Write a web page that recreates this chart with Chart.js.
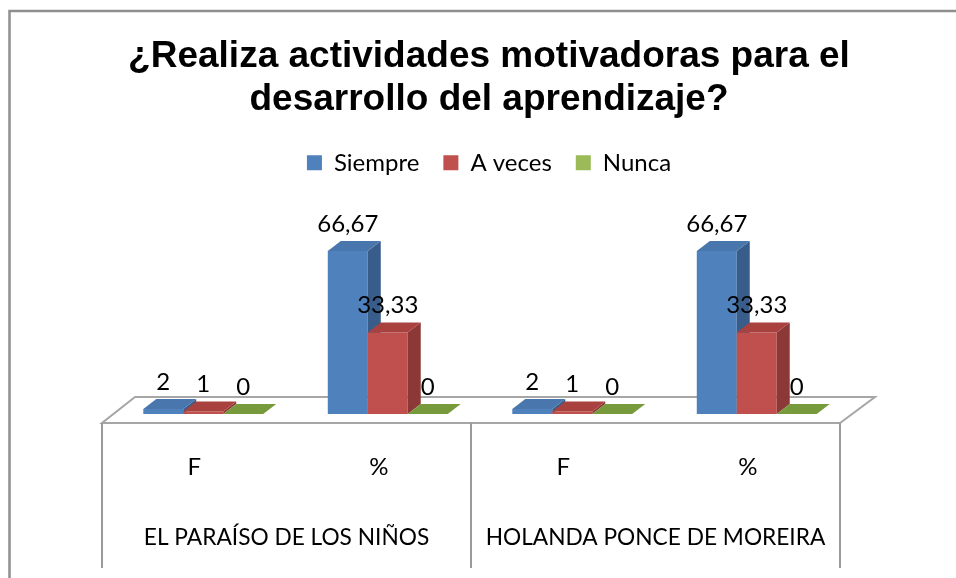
<!DOCTYPE html>
<html><head><meta charset="utf-8">
<script src="https://cdn.jsdelivr.net/npm/chart.js@4/dist/chart.umd.min.js"></script>
<style>html,body{margin:0;padding:0;background:#fff;}canvas{display:block;}</style>
</head><body>
<canvas id="c" width="956" height="578"></canvas>
<script>
const titleLines = ['¿Realiza actividades motivadoras para el', 'desarrollo del aprendizaje?'];
const categories = ['F', '%', 'F', '%'];
const groups = ['EL PARAÍSO DE LOS NIÑOS', 'HOLANDA PONCE DE MOREIRA'];
const seriesNames = ['Siempre', 'A veces', 'Nunca'];
const siempre = [2, 66.67, 2, 66.67];
const aVeces = [1, 33.33, 1, 33.33];
const nunca = [0, 0, 0, 0];

const frontColors = ['#4F81BD', '#C0504D', '#9BBB59'];
const sideColors = ['#385D8A', '#8C3836', '#71893F'];
const topColors = ['#4A76AE', '#A9423F', '#779A3C'];

const DX = 13, DY = 10;
const FONT = 'Lato';

function poly(ctx, pts, color) {
  ctx.fillStyle = color;
  ctx.beginPath();
  ctx.moveTo(pts[0][0], pts[0][1]);
  for (let i = 1; i < pts.length; i++) ctx.lineTo(pts[i][0], pts[i][1]);
  ctx.closePath();
  ctx.fill();
}

const threeD = {
  id: 'threeD',
  beforeDraw(chart) {
    const ctx = chart.ctx;
    ctx.save();
    ctx.fillStyle = '#fff';
    ctx.fillRect(0, 0, chart.width, chart.height);
    ctx.strokeStyle = '#8f8f8f';
    ctx.lineWidth = 2.5;
    ctx.beginPath();
    ctx.moveTo(9.5, chart.height);
    ctx.lineTo(9.5, 11);
    ctx.lineTo(chart.width, 11);
    ctx.stroke();
    ctx.restore();
  },
  beforeDatasetsDraw(chart) {
    const ctx = chart.ctx, a = chart.chartArea;
    const xs = chart.scales.x, x2 = chart.scales.x2;
    const y0 = chart.scales.y.getPixelForValue(0);
    const fl = a.left - 9, fr = a.right - 9, fy = y0 + 9;
    const bl = a.left + 24, br = a.right + 26, by = y0 - 17;
    ctx.save();
    ctx.fillStyle = '#fff';
    ctx.strokeStyle = '#a6a6a6';
    ctx.lineWidth = 2;
    ctx.beginPath();
    ctx.moveTo(fl, fy); ctx.lineTo(fr, fy); ctx.lineTo(br, by); ctx.lineTo(bl, by);
    ctx.closePath();
    ctx.fill(); ctx.stroke();
    const mid = (xs.getPixelForValue(1) + xs.getPixelForValue(2)) / 2 - 9;
    ctx.strokeStyle = '#9a9a9a';
    ctx.lineWidth = 2;
    ctx.beginPath();
    [fl, mid, fr].forEach(px => { ctx.moveTo(px, fy); ctx.lineTo(px, x2.bottom); });
    ctx.stroke();
    chart.data.datasets.forEach((ds, i) => {
      const meta = chart.getDatasetMeta(i);
      meta.data.forEach(el => {
        const p = el.getProps(['x', 'y', 'base', 'width'], true);
        const l = p.x - p.width / 2, r = p.x + p.width / 2;
        if (p.base - p.y > 0.5) {
          poly(ctx, [[l, p.y], [r, p.y], [r, p.base], [l, p.base]], frontColors[i]);
          poly(ctx, [[r, p.y], [r + DX, p.y - DY], [r + DX, p.base - DY], [r, p.base]], sideColors[i]);
        }
        poly(ctx, [[l, p.y], [r, p.y], [r + DX, p.y - DY], [l + DX, p.y - DY]], topColors[i]);
      });
    });
    ctx.restore();
    return false;
  },
  afterDraw(chart) {
    const ctx = chart.ctx;
    ctx.save();
    ctx.font = '24px ' + FONT;
    ctx.fillStyle = '#000';
    ctx.textAlign = 'center';
    ctx.textBaseline = 'middle';
    chart.data.datasets.forEach((ds, i) => {
      const meta = chart.getDatasetMeta(i);
      meta.data.forEach((el, j) => {
        const p = el.getProps(['x', 'y'], true);
        const txt = String(ds.data[j]).replace('.', ',');
        ctx.fillText(txt, p.x, p.y - DY - 17);
      });
    });
    ctx.restore();
  }
};

const seriesData = [siempre, aVeces, nunca];
new Chart(document.getElementById('c'), {
  type: 'bar',
  plugins: [threeD],
  data: {
    labels: categories,
    datasets: seriesNames.map((n, i) => ({
      label: n,
      data: seriesData[i],
      backgroundColor: frontColors[i],
      borderWidth: 0,
      xAxisID: 'x',
      categoryPercentage: 0.65,
      barPercentage: 1.0
    }))
  },
  options: {
    responsive: false,
    animation: false,
    devicePixelRatio: 1,
    events: [],
    layout: { padding: { left: 111, right: 89, top: 0, bottom: 10 } },
    plugins: {
      title: {
        display: true,
        text: titleLines,
        color: '#000',
        font: { family: 'Liberation Sans', size: 37, weight: 'bold', lineHeight: 1.16 },
        padding: { top: 35, bottom: 6 }
      },
      legend: {
        display: true,
        labels: {
          color: '#000',
          font: { family: FONT, size: 24 },
          boxWidth: 15,
          boxHeight: 15,
          padding: 24
        }
      },
      tooltip: { enabled: false }
    },
    scales: {
      x: {
        type: 'category',
        position: 'bottom',
        offset: true,
        grid: { display: false, drawTicks: false },
        border: { display: false },
        ticks: { color: '#000', font: { family: FONT, size: 24 }, padding: 39, labelOffset: -9, maxRotation: 0 },
        afterFit(s) { s.height = 68; }
      },
      x2: {
        type: 'category',
        position: 'bottom',
        labels: groups,
        offset: true,
        grid: { display: false, drawTicks: false },
        border: { display: false },
        ticks: { color: '#000', font: { family: FONT, size: 22.7 }, padding: 42, labelOffset: -9, maxRotation: 0, autoSkip: false },
        afterFit(s) { s.height = 86; }
      },
      y: {
        display: true,
        position: 'right',
        min: 0,
        max: 93.7,
        grid: { display: false, drawTicks: false },
        border: { display: false },
        ticks: { display: false },
        afterFit(s) { s.width = 18; }
      }
    }
  }
});
</script>
</body></html>
